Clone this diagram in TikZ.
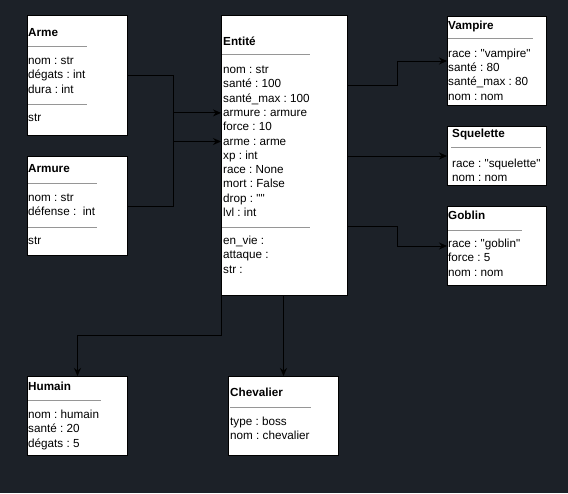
\documentclass[tikz,border=0pt]{standalone}
\usepackage{fontspec}
\setmainfont{Liberation Sans}[Ligatures=TeXOff]
\usetikzlibrary{arrows.meta}
\definecolor{bgdark}{RGB}{28,33,40}
\definecolor{sepgray}{RGB}{150,150,150}
\frenchspacing

\begin{document}
\begin{tikzpicture}[x=1pt, y=-1pt,
  classbox/.style={draw=black, fill=white, line width=1pt, anchor=north west, inner sep=0pt},
  title/.style={anchor=west, inner sep=0pt, text height=9pt, text depth=2pt, font=\fontsize{11.7}{14}\selectfont\bfseries},
  attr/.style={anchor=west, inner sep=0pt, text height=9pt, text depth=2pt, font=\fontsize{11.7}{14}\selectfont},
  sepline/.style={draw=sepgray, line width=1pt},
  link/.style={draw=black, line width=1pt, -{Stealth[length=8pt, width=7pt]}}]

  % Background
  \fill[bgdark] (0,0) rectangle (568,493);

  % Arme
  \node[classbox, minimum width=100pt, minimum height=120pt] (arme) at (27,15) {};
  \node[title] (arme-t) at (28,33) {Arme};
  \draw[sepline] (28,46) -- (87,46);
  \foreach \t [count=\i] in {nom : str, dégats : int, dura : int} {
    \node[attr] (arme-\i) at (28, {61+(\i-1)*14.4}) {\t};
  }
  \draw[sepline] (28,104) -- (87,104);
  \node[attr] (arme-m) at (28,118) {str};

  % Armure
  \node[classbox, minimum width=100pt, minimum height=99pt] (armure) at (27,156) {};
  \node[title] (armure-t) at (28,169) {Armure};
  \draw[sepline] (28,183) -- (97,183);
  \foreach \t [count=\i] in {nom : str, défense :\ \ int} {
    \node[attr] (armure-\i) at (28, {198+(\i-1)*14.4}) {\t};
  }
  \draw[sepline] (28,227) -- (97,227);
  \node[attr] (armure-m) at (28,241) {str};

  % Entite
  \node[classbox, minimum width=126pt, minimum height=280pt] (entite) at (221,15) {};
  \node[title] (ent-t) at (223,42) {Entité};
  \draw[sepline] (222,54) -- (310,54);
  \foreach \t [count=\i] in {nom : str, santé : 100, santé\_max : 100, armure : armure,
      force : 10, arme : arme, xp : int, race : None, mort : False, drop : "", lvl : int} {
    \node[attr] (ent-\i) at (223, {70+(\i-1)*14.3}) {\t};
  }
  \draw[sepline] (222,227) -- (310,227);
  \foreach \t [count=\i] in {en\_vie :, attaque :, str :} {
    \node[attr] (ent-m\i) at (223, {241+(\i-1)*14.4}) {\t};
  }

  % Vampire
  \node[classbox, minimum width=99pt, minimum height=89pt] (vampire) at (447,16) {};
  \node[title] (vamp-t) at (448,26) {Vampire};
  \draw[sepline] (448,38) -- (533,38);
  \foreach \t [count=\i] in {race : "vampire", santé : 80, santé\_max : 80, nom : nom} {
    \node[attr] (vamp-\i) at (448, {54+(\i-1)*14.2}) {\t};
  }

  % Squelette
  \node[classbox, minimum width=99pt, minimum height=59pt] (squelette) at (447,126) {};
  \node[title] (sq-t) at (452,134) {Squelette};
  \draw[sepline] (451,147) -- (541,147);
  \foreach \t [count=\i] in {race : "squelette", nom : nom} {
    \node[attr] (sq-\i) at (452, {164+(\i-1)*13.6}) {\t};
  }

  % Goblin
  \node[classbox, minimum width=99pt, minimum height=79pt] (goblin) at (447,206) {};
  \node[title] (gob-t) at (448,216) {Goblin};
  \draw[sepline] (448,230) -- (522,230);
  \foreach \t [count=\i] in {race : "goblin", force : 5, nom : nom} {
    \node[attr] (gob-\i) at (448, {244+(\i-1)*14.4}) {\t};
  }

  % Humain
  \node[classbox, minimum width=100pt, minimum height=79pt] (humain) at (27,376) {};
  \node[title] (hum-t) at (28,387) {Humain};
  \draw[sepline] (28,400) -- (101,400);
  \foreach \t [count=\i] in {nom : humain, santé : 20, dégats : 5} {
    \node[attr] (hum-\i) at (28, {415+(\i-1)*14.4}) {\t};
  }

  % Chevalier
  \node[classbox, minimum width=110pt, minimum height=79pt] (chevalier) at (228,376) {};
  \node[title] (chev-t) at (230,393) {Chevalier};
  \draw[sepline] (230,407) -- (311,407);
  \foreach \t [count=\i] in {type : boss, nom : chevalier} {
    \node[attr] (chev-\i) at (230, {422+(\i-1)*14.2}) {\t};
  }

  % Bends
  \coordinate (jleft) at (173,0);
  \coordinate (jright) at (397,0);
  \coordinate (jdown) at (0,335);

  % Arme / Armure into Entite
  \draw[link] (arme.east) -- (arme.east -| jleft) |- (ent-6 -| entite.west);
  \draw[link] (armure.east) -- (armure.east -| jleft) |- (ent-4 -| entite.west);

  % Entite to the monsters
  \draw[link] ([yshift=70pt]entite.east) -- ([yshift=70pt]entite.east -| jright) |- (vampire.west);
  \draw[link] (squelette.west -| entite.east) -- (squelette.west);
  \draw[link] ([yshift=-71pt]entite.east) -- ([yshift=-71pt]entite.east -| jright) |- (goblin.west);

  % Entite down
  \draw[link] (entite.south west) -- (entite.south west |- jdown) -| (humain.north);
  \draw[link] (chevalier.north |- entite.south) -- (chevalier.north);

\end{tikzpicture}
\end{document}
